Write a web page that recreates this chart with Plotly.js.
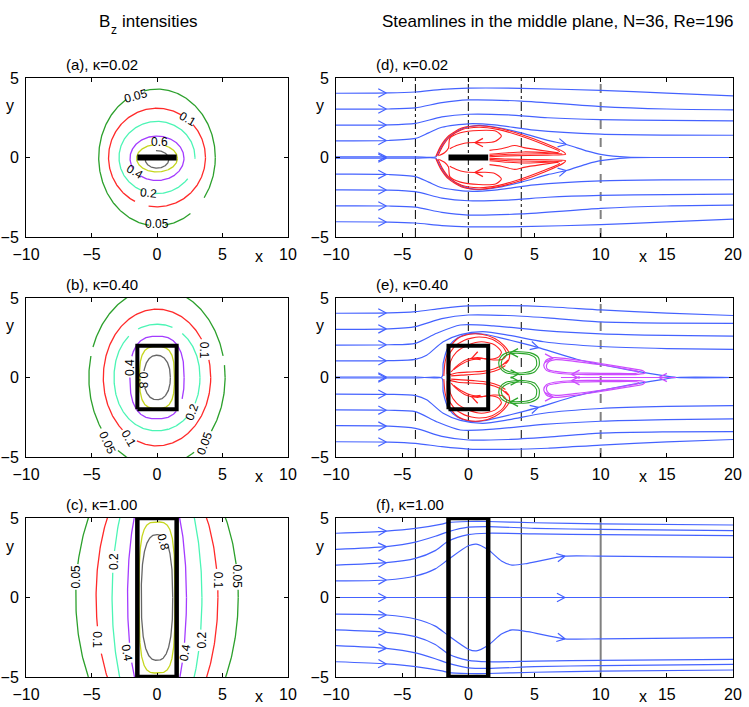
<!DOCTYPE html>
<html><head><meta charset="utf-8">
<script src="https://cdn.plot.ly/plotly-3.0.1.min.js"></script>
<style>html,body{margin:0;padding:0;background:#fff}</style>
</head><body><div id="chart" style="width:749px;height:707px"></div>
<script>
// ================= DATA =================
const levelValues = [0.05, 0.1, 0.2, 0.4, 0.6, 0.8];
const levelColors = ['#2ca02c', '#ff2a2a', '#4cf5b5', '#a43cff', '#c5d61e', '#666666'];

// ---- panel (a): Bz contours, kappa=0.02 ----
const aSemiX = [4.45, 3.7, 2.9, 2.06, 1.56, 0.9];
const aSemiY = [4.3, 3.1, 2.27, 1.4, 0.86, 0.55];
const aCenterY = [0, 0, 0, -0.05, -0.05, -0.12];
const aPow = [2, 2, 2, 2, 2, 2];
const aGaps = [[[103,122],[262,278],[305,324]], [[42,60],[243,260]], [[248,266],[324,358]], [[207,232]], [[65,100]], [[95,150]]];
const aLabelText = ['0.05', '0.1', '0.6', '0.4', '0.2', '0.05'];
const aLabelX = [-1.63, 2.34, 0.18, -1.68, -0.66, 0.0];
const aLabelY = [3.87, 2.41, 0.98, -0.94, -2.25, -4.2];
const aLabelAngle = [-15, 30, 0, 30, 5, 0];

// ---- panel (b): kappa=0.40 ----
const bSemiX = [5.2, 4.1, 3.28, 2.07, 1.33, 1.02];
const bSemiY = [5.6, 4.3, 3.35, 2.6, 1.95, 1.4];
const bCenterY = [0, 0, 0, 0, 0, 0];
const bPow = [2, 2, 2.1, 2.6, 3, 2.2];
const bGaps = [[[8,14],[160,166],[215,235],[303,323]], [[15,34],[230,248]], [[55,70],[115,130],[312,332]], [[155,180],[310,335]], [], [[165,205]]];
const bLabelText = ['0.1', '0.4', '0.8', '0.2', '0.1', '0.05', '0.05'];
const bLabelX = [3.6, -2.06, -1.04, 2.65, -2.19, -3.79, 3.66];
const bLabelY = [1.73, 0.6, -0.16, -2.15, -3.83, -4.14, -4.14];
const bLabelAngle = [90, -90, 90, -70, 60, 65, -70];

// ---- panel (c): kappa=1.00 ----
const cSemiX = [6.2, 4.65, 3.43, 2.25, 1.37, 1.2];
const cSemiY = [9.35, 8.68, 8.98, 7.95, 4.75, 3.95];
const cCenterY = [0, 0, 0, 0, 0, 0];
const cPow = [2, 2, 2, 2, 3.5, 2.6];
const cGaps = [[[3,13],[167,177]], [[3,12],[192,204]], [[161,170],[338,347]], [[201,211],[329,339]], [], [[50,80]]];
const cLabelText = ['0.05', '0.2', '0.8', '0.1', '0.05', '0.1', '0.4', '0.4', '0.2'];
const cLabelX = [-6.2, -3.33, 0.48, 4.68, 6.13, -4.6, -2.31, 2.14, 3.41];
const cLabelY = [1.3, 2.25, 3.5, 1.1, 1.3, -2.67, -3.5, -3.5, -2.67];
const cLabelAngle = [-90, -90, 75, 90, 90, 90, 80, -80, -90];

// ---- bodies ----
const bodyX = [-1.5, 1.5];
const bodyHalfY = [0, 2, 5];   // kappa 0.02 (plate), 0.40, 1.00

// ---- panel (d): streamlines (upper half; lower half is the mirror) ----
const dLineX = [
  [-10,-6,-4,-2,0,4,10,15,20],
  [-10,-6,-4,-2,0,4,10,15,20],
  [-10,-6,-4,-2,0,3,6,10,15,20],
  [-10,-6,-4,-3,-2,0,2,5,10,15,20],
  [-10,-4,-2.45,-2.2,-1.6,-0.5,0.8,2,4,6,7.4,9,10,12,15,20]
];
const dLineY = [
  [4.04,4.06,4.12,4.28,4.36,4.35,4.22,4.05,3.88],
  [3.04,3.05,3.12,3.45,3.62,3.55,3.2,3.05,3.0],
  [2.03,2.05,2.15,2.55,2.72,2.68,2.5,2.38,2.33,2.3],
  [1.05,1.07,1.2,1.55,1.9,2.12,2.05,1.72,1.47,1.41,1.4],
  [0.04,0.04,0.05,0.45,1.2,1.8,2.02,1.92,1.55,1.08,0.82,0.4,0.2,0.02,0,0]
];
const dRedX = [
  [-2.45,-2.1,-1.5,-0.5,0.8,2.2,4,5.8,7.2,7.35,6,3,1.6],
  [-2.3,-1.95,-1.4,-0.5,0.8,2.2,3.8,5.6,6.9,6.2,3,1.6],
  [-2.2,-1.8,-1.5,-1.4,-0.6,0.8,2.1,2.5,2.0,1.2,0.5,-0.3,-0.9,-1.4],
  [1.6,2.5,3.5,4.2,5.5,6.8],
  [1.6,3,4.2,6,7.1]
];
const dRedY = [
  [0.08,0.7,1.35,1.85,2.0,1.85,1.45,0.9,0.35,0.2,0.15,0.1,0.05],
  [0.1,0.7,1.3,1.75,1.9,1.77,1.4,0.85,0.38,0.27,0.2,0.12],
  [0.12,0.3,0.6,1.2,1.55,1.7,1.65,1.35,1.0,0.93,0.94,0.9,0.75,0.55],
  [0.45,0.55,0.75,0.62,0.45,0.3],
  [0.2,0.3,0.35,0.3,0.22]
];
const dArrowLine = [0,1,2,3,4,4];
const dArrowAt = [-6.2,-6.2,-6.2,-6.2,-6.2,7.4];
const dRedArrowX = [0.5], dRedArrowY = [0.94], dRedArrowDir = [180];

// ---- panel (e) ----
const eLineX = [
  [-10,-6,-4,-2,0,3,6,10,15,20],
  [-10,-6,-4,-2,0,3,6,10,15,20],
  [-10,-6,-4,-2.4,-0.6,1.9,5.7,10,15,20],
  [-10,-6,-4,-3.15,-1.9,-0.6,1.1,3.1,5.7,10,15,20],
  [-10,-4,-2.0,-1.9,-1.5,-0.8,0.1,1.2,2.6,3.9,5.3,8.2,12,14.5,15.75,20]
];
const eLineY = [
  [4.04,4.06,4.14,4.35,4.5,4.52,4.45,4.25,4.05,3.9],
  [3.03,3.06,3.2,3.7,3.93,3.9,3.75,3.5,3.42,3.4],
  [2.04,2.06,2.15,2.78,3.3,3.25,2.95,2.75,2.65,2.6],
  [1.04,1.06,1.14,1.4,2.25,2.7,2.88,2.65,2.25,1.95,1.82,1.77],
  [0.03,0.03,0.04,0.9,1.94,2.5,2.76,2.72,2.46,2.19,1.88,1.15,0.5,0.15,0,0]
];
const eRedX = [
  [-1.85,-1.75,-1.4,-0.8,0.1,1.0,2.0,2.7,3.1,3.05,2.8],
  [-1.6,-1.55,-1.1,-0.3,0.8,1.8,2.6,2.9,2.6,1.9,1.0,0.2,-0.6,-1.1],
  [-1.45,-1.35,-0.9,0,1.0,2.0,2.5,2.3,1.6,0.7,-0.2,-0.9,-1.3],
  [-1.5,-0.8,0.2,1.2,2.0,2.6,3.0],
  [-1.3,-0.5,0.5,1.5,2.3,2.8]
];
const eRedY = [
  [0.1,1.0,1.85,2.45,2.72,2.72,2.45,2.0,1.5,1.1,0.85],
  [0.2,1.2,1.9,2.35,2.55,2.4,1.95,1.45,1.15,1.1,1.2,1.1,0.8,0.5],
  [0.25,1.0,1.6,2.05,2.25,2.05,1.6,1.3,1.15,1.25,1.1,0.7,0.35],
  [0.15,0.3,0.35,0.4,0.55,0.8,1.1],
  [0.1,0.15,0.2,0.3,0.5,0.75]
];
const eGreenX = [
  [2.3,2.5,3.1,3.9,4.7,5.3,5.35,5.0,4.3,3.5,2.8,2.4,2.3],
  [2.5,2.7,3.2,3.9,4.6,5.1,5.15,4.8,4.2,3.5,2.9,2.55,2.5]
];
const eGreenY = [
  [0.95,1.35,1.6,1.62,1.55,1.25,0.75,0.35,0.2,0.2,0.32,0.6,0.95],
  [0.95,1.3,1.5,1.52,1.45,1.2,0.75,0.42,0.3,0.3,0.42,0.65,0.95]
];
const eMagX = [
  [5.7,5.9,6.5,8,10,12,13.2,13.35,12.8,11,9,7.5,6.5,5.9,5.7],
  [5.9,6.1,6.6,8,10,12,12.9,12.7,11,9,7.5,6.6,6.0,5.9],
  [7,15.7]
];
const eMagY = [
  [0.75,1.1,1.25,1.12,0.88,0.6,0.42,0.28,0.2,0.18,0.18,0.22,0.3,0.45,0.75],
  [0.75,1.0,1.12,1.02,0.8,0.52,0.35,0.27,0.26,0.27,0.3,0.38,0.5,0.75],
  [0,0]
];
const eArrowLine = [0,1,2,3,4,4];
const eArrowAt = [-6.2,-6.2,-6.2,-6.2,-6.2,5.3];
const eRedArrowX = [0.25], eRedArrowY = [1.2], eRedArrowDir = [200];
const eGreenArrowX = [3.15, 3.8], eGreenArrowY = [1.55, 0.22], eGreenArrowDir = [180, 0];
const eMagArrowX = [6.4, 7.8, 14.4], eMagArrowY = [1.22, 0.2, 0], eMagArrowDir = [0, 180, 180];

// ---- panel (f) ----
const fLineX = [
  [-10,-6.2,-4,-2,-1.5,0,1.5,5,10,20],
  [-10,-6.2,-4,-2.5,-1.5,0,1.5,5,10,20],
  [-10,-6.2,-4,-2.5,-1.5,0,1.5,5,10,20],
  [-10,-6.2,-4,-2.5,-1.5,0,0.6,1.5,2.5,3.3,4.5,7.3,10,20],
  [-10,20]
];
const fLineY = [
  [4.04,4.18,4.35,4.62,4.72,4.78,4.78,4.7,4.63,4.56],
  [3.03,3.2,3.48,3.85,4.14,4.42,4.46,4.35,4.28,4.2],
  [2.04,2.19,2.46,2.95,3.55,3.95,4.04,4.0,3.95,3.89],
  [1.04,1.1,1.35,1.8,2.4,3.25,3.36,3.0,2.3,2.04,2.15,2.6,2.6,2.52],
  [0,0]
];
const fArrowLine = [0,1,2,3,4,3,4];
const fArrowAt = [-6.2,-6.2,-6.2,-6.2,-6.2,7.3,7.3];

// vertical reference lines
const cutX = [-4, 0, 4];
const farCutX = [10];

const panelTitles = ['(a), \u03ba=0.02', '(d), \u03ba=0.02', '(b), \u03ba=0.40', '(e), \u03ba=0.40', '(c), \u03ba=1.00', '(f), \u03ba=1.00'];
const leftTicks = [-10, -5, 0, 5, 10];
const rightTicks = [-10, -5, 0, 5, 10, 15, 20];
const yTicks = [-5, 0, 5];

// ================= DRAWING =================
const W = 749, H = 707;
const colL = [26, 288], colR = [336, 733];
const rows = [[78, 237], [298, 457], [518, 677]];
const FONT = 'Liberation Sans, Arial, Helvetica, sans-serif';
const BLUE = '#4462ff', RED = '#ff2020', GREEN = '#2aa52a', MAG = '#cc4cff';

const traces = [];
const annotations = [];
const shapes = [];
const layout = {
  width: W, height: H, margin: {l: 0, r: 0, t: 0, b: 0},
  paper_bgcolor: '#fff', plot_bgcolor: '#fff', showlegend: false,
  font: {family: FONT, size: 14, color: '#000'}
};

function axisCfg(range, tickvals, domain, anchor) {
  return {range, tickvals, domain, anchor, ticks: 'inside', ticklen: 4, tickwidth: 1, tickcolor: '#000',
    mirror: 'ticks', showline: true, linecolor: '#000', linewidth: 1, showgrid: false, zeroline: false,
    tickfont: {family: FONT, size: 16, color: '#000'}, ticklabelstandoff: 3, fixedrange: true};
}
function paperText(text, px, py, size, anchor) {
  annotations.push({text, xref: 'paper', yref: 'paper', x: px / W, y: 1 - py / H,
    xanchor: anchor || 'center', yanchor: 'middle', showarrow: false, font: {family: FONT, size, color: '#000'}});
}

// panel order: a, d, b, e, c, f
const panelInfo = [];
for (let r = 0; r < 3; r++) {
  for (let c = 0; c < 2; c++) {
    const idx = r * 2 + c;
    const n = idx === 0 ? '' : String(idx + 1);
    const col = c === 0 ? colL : colR;
    const xr = c === 0 ? [-10, 10] : [-10, 20];
    layout['xaxis' + n] = axisCfg(xr, c === 0 ? leftTicks : rightTicks, [col[0] / W, col[1] / W], 'y' + n);
    layout['yaxis' + n] = axisCfg([-5, 5], yTicks, [1 - rows[r][1] / H, 1 - rows[r][0] / H], 'x' + n);
    const info = {xa: 'x' + n, ya: 'y' + n, sx: (col[1] - col[0]) / (xr[1] - xr[0]), sy: (rows[r][1] - rows[r][0]) / 10};
    panelInfo.push(info);
    paperText(panelTitles[idx], c === 0 ? 64 : 374, rows[r][0] - 14, 15, 'left');
    paperText('y', col[0] - 16, rows[r][0] + 28, 16);
    paperText('x', c === 0 ? 259 : 643, rows[r][1] + 19, 16);
  }
}

// header texts (B with subscript z, built from plain pieces)
paperText('B', 97, 21, 17, 'left');
paperText('z', 109, 30, 12, 'left');
paperText('intensities', 120, 21, 17, 'left');
paperText('Steamlines in the middle plane, N=36, Re=196', 558, 21, 17);

// ---- contour panels ----
function contourPath(sx, sy, cy, p, gaps) {
  const X = [], Y = [];
  let prevIn = false;
  for (let t = 0; t <= 360; t += 1) {
    const inGap = gaps.some(g => t > g[0] && t < g[1]);
    if (inGap) { if (prevIn) { X.push(null); Y.push(null); } prevIn = false; continue; }
    const rr = t * Math.PI / 180, c = Math.cos(rr), s = Math.sin(rr);
    X.push(sx * Math.sign(c) * Math.pow(Math.abs(c), 2 / p));
    Y.push(cy + sy * Math.sign(s) * Math.pow(Math.abs(s), 2 / p));
    prevIn = true;
  }
  return {X, Y};
}
function addContours(pi, semiX, semiY, cY, pw, gaps, lt, lx, ly, la) {
  const info = panelInfo[pi];
  for (let k = 0; k < levelValues.length; k++) {
    const path = contourPath(semiX[k], semiY[k], cY[k], pw[k], gaps[k]);
    traces.push({type: 'scatter', mode: 'lines', x: path.X, y: path.Y, xaxis: info.xa, yaxis: info.ya,
      line: {color: levelColors[k], width: 1.3}, hoverinfo: 'skip', connectgaps: false});
  }
  for (let k = 0; k < lt.length; k++) {
    annotations.push({text: lt[k], x: lx[k], y: ly[k], xref: info.xa, yref: info.ya, showarrow: false,
      textangle: la[k], font: {family: FONT, size: 12, color: '#000'}});
  }
}
addContours(0, aSemiX, aSemiY, aCenterY, aPow, aGaps, aLabelText, aLabelX, aLabelY, aLabelAngle);
addContours(2, bSemiX, bSemiY, bCenterY, bPow, bGaps, bLabelText, bLabelX, bLabelY, bLabelAngle);
addContours(4, cSemiX, cSemiY, cCenterY, cPow, cGaps, cLabelText, cLabelX, cLabelY, cLabelAngle);

// ---- streamline helpers ----
function mirror(arr) { return arr.map(v => -v); }
function addLines(info, xs, ys, color, width, bothHalves) {
  const X = [], Y = [];
  for (let i = 0; i < xs.length; i++) {
    X.push(...xs[i], null); Y.push(...ys[i], null);
    if (bothHalves) { X.push(...xs[i], null); Y.push(...mirror(ys[i]), null); }
  }
  traces.push({type: 'scatter', mode: 'lines', x: X, y: Y, xaxis: info.xa, yaxis: info.ya,
    line: {color, width, shape: 'spline', smoothing: 0.7}, hoverinfo: 'skip', connectgaps: false});
}
function chevron(info, x, y, angDeg, out) {
  const a = angDeg * Math.PI / 180, L = 8, h = 4.2;
  const dx = Math.cos(a), dy = Math.sin(a), nx = -dy, ny = dx;
  const p1x = x + (-L * dx + h * nx) / info.sx, p1y = y + (-L * dy + h * ny) / info.sy;
  const p2x = x + (-L * dx - h * nx) / info.sx, p2y = y + (-L * dy - h * ny) / info.sy;
  out.X.push(p1x, x, p2x, null); out.Y.push(p1y, y, p2y, null);
}
function interpAt(xs, ys, xa) {
  for (let i = 0; i < xs.length - 1; i++) {
    if ((xs[i] - xa) * (xs[i + 1] - xa) <= 0 && xs[i] !== xs[i + 1]) {
      const f = (xa - xs[i]) / (xs[i + 1] - xs[i]);
      return {y: ys[i] + f * (ys[i + 1] - ys[i]), dx: xs[i + 1] - xs[i], dy: ys[i + 1] - ys[i]};
    }
  }
  return null;
}
function addLineArrows(info, xs, ys, lineIdx, at, color) {
  const out = {X: [], Y: []};
  for (let k = 0; k < lineIdx.length; k++) {
    const li = lineIdx[k];
    const r = interpAt(xs[li], ys[li], at[k]);
    if (!r) continue;
    const ang = Math.atan2(r.dy * info.sy, r.dx * info.sx) * 180 / Math.PI;
    chevron(info, at[k], r.y, ang, out);
    if (Math.abs(r.y) > 0.02) chevron(info, at[k], -r.y, -ang, out);
  }
  traces.push({type: 'scatter', mode: 'lines', x: out.X, y: out.Y, xaxis: info.xa, yaxis: info.ya,
    line: {color, width: 1.2}, hoverinfo: 'skip'});
}
function addFreeArrows(info, ax, ay, adir, color, bothHalves) {
  const out = {X: [], Y: []};
  for (let k = 0; k < ax.length; k++) {
    chevron(info, ax[k], ay[k], adir[k], out);
    if (bothHalves && Math.abs(ay[k]) > 0.02) chevron(info, ax[k], -ay[k], -adir[k], out);
  }
  traces.push({type: 'scatter', mode: 'lines', x: out.X, y: out.Y, xaxis: info.xa, yaxis: info.ya,
    line: {color, width: 1.3}, hoverinfo: 'skip'});
}
function addCuts(info, style) {
  for (const cx of cutX) {
    shapes.push({type: 'line', xref: info.xa, yref: info.ya + ' domain', x0: cx, x1: cx, y0: 0, y1: 1,
      line: {color: '#000', width: 1, dash: style}, layer: 'below'});
  }
  for (const cx of farCutX) {
    shapes.push({type: 'line', xref: info.xa, yref: info.ya + ' domain', x0: cx, x1: cx, y0: 0, y1: 1,
      line: {color: '#808080', width: 2, dash: style === 'dashdot' ? 'dash' : style}, layer: 'below'});
  }
}
function addBody(info, halfY, width) {
  let X, Y;
  if (halfY === 0) { X = [bodyX[0], bodyX[1]]; Y = [0, 0]; }
  else { X = [bodyX[0], bodyX[1], bodyX[1], bodyX[0], bodyX[0]]; Y = [-halfY, -halfY, halfY, halfY, -halfY]; }
  traces.push({type: 'scatter', mode: 'lines', x: X, y: Y, xaxis: info.xa, yaxis: info.ya,
    line: {color: '#000', width: halfY === 0 ? 6 : width}, hoverinfo: 'skip'});
}

// bodies on contour panels
addBody(panelInfo[0], bodyHalfY[0], 4);
addBody(panelInfo[2], bodyHalfY[1], 4);
addBody(panelInfo[4], bodyHalfY[2], 4.5);

// panel (d)
{
  const info = panelInfo[1];
  addCuts(info, 'dashdot');
  addLines(info, dLineX, dLineY, BLUE, 1.2, true);
  addLineArrows(info, dLineX, dLineY, dArrowLine, dArrowAt, BLUE);
  addLines(info, dRedX, dRedY, RED, 1.1, true);
  addFreeArrows(info, dRedArrowX, dRedArrowY, dRedArrowDir, RED, true);
  addBody(info, bodyHalfY[0], 6);
}
// panel (e)
{
  const info = panelInfo[3];
  addCuts(info, 'dash');
  addLines(info, eLineX, eLineY, BLUE, 1.2, true);
  addLineArrows(info, eLineX, eLineY, eArrowLine, eArrowAt, BLUE);
  addLines(info, eRedX, eRedY, RED, 1.1, true);
  addFreeArrows(info, eRedArrowX, eRedArrowY, eRedArrowDir, RED, true);
  addLines(info, eGreenX, eGreenY, GREEN, 1.1, true);
  addFreeArrows(info, eGreenArrowX, eGreenArrowY, eGreenArrowDir, GREEN, true);
  addLines(info, eMagX, eMagY, MAG, 1.2, true);
  addFreeArrows(info, eMagArrowX, eMagArrowY, eMagArrowDir, MAG, true);
  addBody(info, bodyHalfY[1], 4);
}
// panel (f)
{
  const info = panelInfo[5];
  addCuts(info, 'solid');
  addLines(info, fLineX, fLineY, BLUE, 1.2, true);
  addLineArrows(info, fLineX, fLineY, fArrowLine, fArrowAt, BLUE);
  addBody(info, bodyHalfY[2], 4.5);
}

layout.annotations = annotations;
layout.shapes = shapes;
Plotly.newPlot('chart', traces, layout, {staticPlot: true, displayModeBar: false});
</script>
</body></html>
